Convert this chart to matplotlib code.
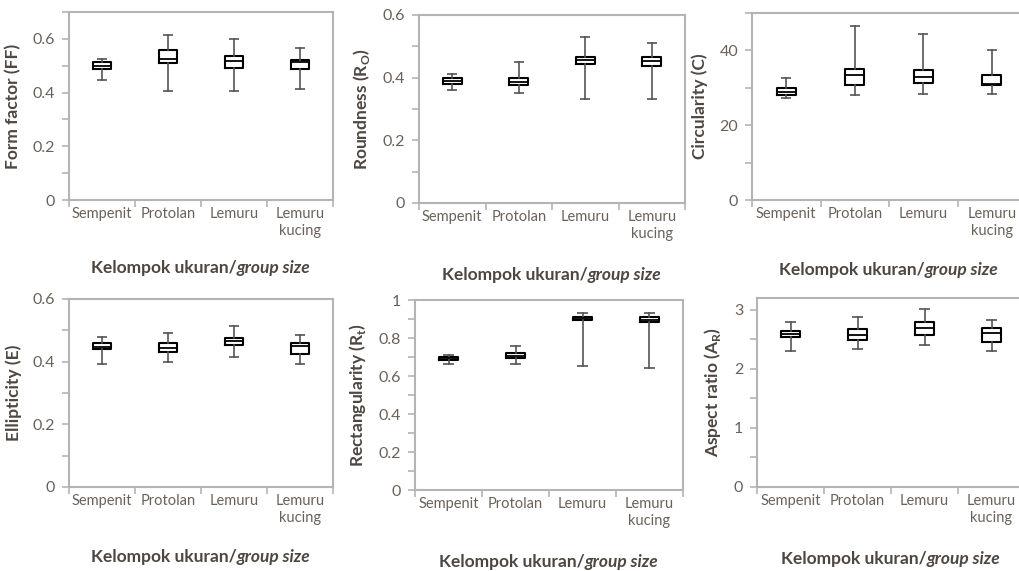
import numpy as np
import matplotlib.pyplot as plt
from matplotlib.ticker import MultipleLocator

plt.rcParams['font.family'] = ['Lato', 'DejaVu Sans']

kelompok = ['Sempenit', 'Protolan', 'Lemuru', 'Lemuru\nkucing']

# nilai boxplot: bawah, Q1, median, Q3, atas
ff_low = [0.445, 0.405, 0.405, 0.414]
ff_q1 = [0.487, 0.511, 0.491, 0.489]
ff_med = [0.499, 0.525, 0.518, 0.513]
ff_q3 = [0.513, 0.559, 0.538, 0.520]
ff_high = [0.526, 0.616, 0.600, 0.567]

ro_low = [0.362, 0.352, 0.333, 0.333]
ro_q1 = [0.379, 0.375, 0.443, 0.438]
ro_med = [0.390, 0.387, 0.456, 0.453]
ro_q3 = [0.400, 0.400, 0.467, 0.467]
ro_high = [0.411, 0.451, 0.531, 0.512]

c_low = [27.3, 28.0, 28.3, 28.3]
c_q1 = [28.0, 30.8, 31.2, 30.7]
c_med = [28.9, 33.3, 32.8, 31.0]
c_q3 = [29.9, 35.0, 34.8, 33.3]
c_high = [32.6, 46.4, 44.3, 40.2]

e_low = [0.393, 0.400, 0.416, 0.393]
e_q1 = [0.440, 0.432, 0.453, 0.426]
e_med = [0.448, 0.445, 0.466, 0.451]
e_q3 = [0.458, 0.458, 0.476, 0.460]
e_high = [0.480, 0.490, 0.514, 0.485]

rt_low = [0.663, 0.663, 0.654, 0.640]
rt_q1 = [0.682, 0.693, 0.893, 0.884]
rt_med = [0.693, 0.707, 0.904, 0.895]
rt_q3 = [0.702, 0.719, 0.912, 0.910]
rt_high = [0.711, 0.760, 0.930, 0.930]

ar_low = [2.31, 2.34, 2.41, 2.31]
ar_q1 = [2.54, 2.49, 2.58, 2.46]
ar_med = [2.59, 2.58, 2.69, 2.61]
ar_q3 = [2.64, 2.68, 2.79, 2.70]
ar_high = [2.79, 2.87, 3.02, 2.82]

W, H = 1019, 571
fig = plt.figure(figsize=(W / 100, H / 100), dpi=100)
renderer = fig.canvas.get_renderer()

spine_c = '#b4b4b4'
tick_c = '#6a625a'
label_c = '#4e4640'


def xlabel(cx, y):
    # "Kelompok ukuran/" tegak + "group size" miring, dipusatkan bersama
    t1 = fig.text(0, 1 - y / H, 'Kelompok ukuran/', fontsize=12.5,
                  fontweight='bold', color=label_c, va='center')
    t2 = fig.text(0, 1 - y / H, 'group size', fontsize=12.5, fontweight='bold',
                  fontstyle='italic', color=label_c, va='center')
    w1 = t1.get_window_extent(renderer).width
    w2 = t2.get_window_extent(renderer).width
    x0 = cx - (w1 + w2) / 2
    t1.set_x(x0 / W)
    t2.set_x((x0 + w1) / W)


def panel(px, data, ylabel, ymax, major, minor, xlab_y):
    l, r, t, b = px
    ax = fig.add_axes([l / W, 1 - b / H, (r - l) / W, (b - t) / H])
    low, q1, med, q3, high = data
    stats = []
    for i in range(len(kelompok)):
        stats.append(dict(whislo=low[i], q1=q1[i], med=med[i], q3=q3[i],
                          whishi=high[i], fliers=[]))
    ax.bxp(stats, positions=np.arange(len(kelompok)), widths=0.28,
           showfliers=False,
           boxprops=dict(color='black', linewidth=1.5),
           medianprops=dict(color='black', linewidth=1.3),
           whiskerprops=dict(color='#555555', linewidth=1.2),
           capprops=dict(color='#555555', linewidth=1.2, solid_capstyle='butt'),
           capwidths=0.15)
    ax.set_xlim(-0.5, len(kelompok) - 0.5)
    ax.set_ylim(0, ymax)
    ax.yaxis.set_major_locator(MultipleLocator(major))
    ax.yaxis.set_minor_locator(MultipleLocator(minor))
    ax.yaxis.set_major_formatter(lambda v, p: ('%g' % round(v, 3)))
    ax.set_xticks(np.arange(-0.5, len(kelompok)), minor=False)
    ax.set_xticklabels([])
    ax.set_xticks(np.arange(len(kelompok)), minor=True)
    ax.set_xticklabels(kelompok, minor=True, fontsize=10.5, color=tick_c,
                       linespacing=1.3, va='top')
    ax.tick_params(axis='x', which='minor', length=0, pad=5)
    ax.tick_params(axis='x', which='major', length=5, color=spine_c, width=1.2)
    ax.tick_params(axis='y', which='both', length=5, color=spine_c, width=1.2,
                   labelsize=11.5, labelcolor=tick_c, pad=5)
    for s in ax.spines.values():
        s.set_color(spine_c)
        s.set_linewidth(1.5)
    ax.set_ylabel(ylabel, fontsize=12.5, fontweight='bold', color=label_c,
                  labelpad=8)
    xlabel((l + r) / 2, xlab_y)
    return ax


panel((69, 333, 12, 200), (ff_low, ff_q1, ff_med, ff_q3, ff_high),
      'Form factor (FF)', 0.7, 0.2, 0.1, 268)
panel((419, 685, 15, 203), (ro_low, ro_q1, ro_med, ro_q3, ro_high),
      'Roundness (R$_\\mathregular{O}$)', 0.6, 0.2, 0.1, 275)
panel((752, 1026, 13, 200), (c_low, c_q1, c_med, c_q3, c_high),
      'Circularity (C)', 50, 20, 10, 270)
panel((69, 333, 299, 487), (e_low, e_q1, e_med, e_q3, e_high),
      'Ellipticity (E)', 0.6, 0.2, 0.1, 557)
panel((415, 683, 300, 490), (rt_low, rt_q1, rt_med, rt_q3, rt_high),
      'Rectangularity (R$_\\mathregular{t}$)', 1.0, 0.2, 0.1, 562)
panel((757, 1025, 298, 487), (ar_low, ar_q1, ar_med, ar_q3, ar_high),
      'Aspect ratio (A$_\\mathregular{R}$)', 3.2, 1, 0.5, 559)

fig.savefig('out.png', dpi=100)
